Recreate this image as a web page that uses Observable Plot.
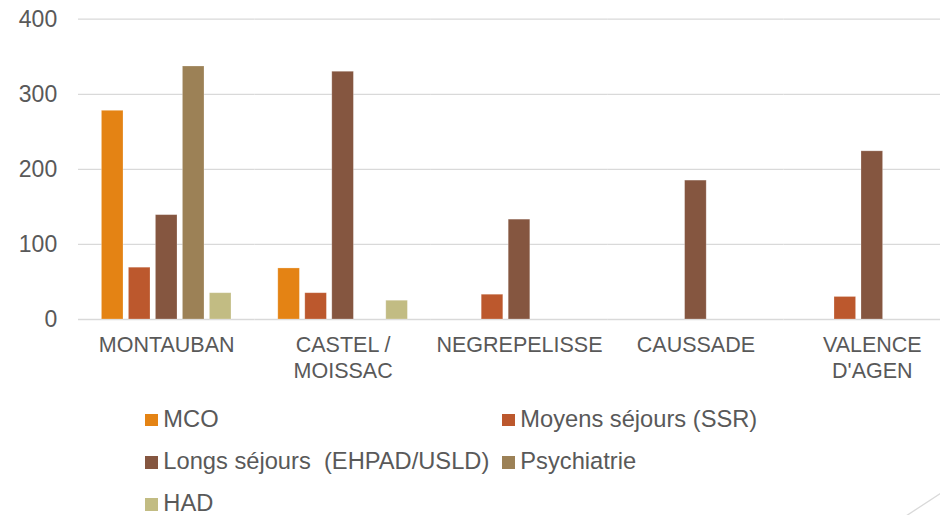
<!DOCTYPE html>
<html>
<head>
<meta charset="utf-8">
<script src="https://cdn.jsdelivr.net/npm/d3@7"></script>
<script src="https://cdn.jsdelivr.net/npm/@observablehq/plot@0.6"></script>
<style>
  html, body { margin: 0; padding: 0; background: #fff; overflow: hidden; }
  #wrap { position: relative; width: 940px; height: 515px; overflow: hidden; font-family: "Liberation Sans", Arial, sans-serif; }
  #chart { position: absolute; left: 0; top: 0; width: 960px; }
  #chart svg { max-width: none !important; }
  .lg-sw { position: absolute; width: 12.5px; height: 12.5px; }
  .lg-tx { position: absolute; font-size: 23.7px; line-height: 22px; color: #595959; white-space: pre; }
  #corner { position: absolute; left: 0; top: 0; }
</style>
</head>
<body>
<div id="wrap">
  <div id="chart"></div>
  <div id="legend"></div>
  <svg id="corner" width="940" height="515"><line x1="906" y1="516" x2="941" y2="493" stroke="#d9d9d9" stroke-width="1.3"/></svg>
</div>
<script>
const categories = ["MONTAUBAN", "CASTEL / MOISSAC", "NEGREPELISSE", "CAUSSADE", "VALENCE D'AGEN"];
const tickLabels = ["MONTAUBAN", "CASTEL /\nMOISSAC", "NEGREPELISSE", "CAUSSADE", "VALENCE\nD'AGEN"];
const series = ["MCO", "Moyens séjours (SSR)", "Longs séjours  (EHPAD/USLD)", "Psychiatrie", "HAD"];
const colors = ["#E48314", "#BC582D", "#855640", "#9C8156", "#C2BC83"];
const mco   = [278, 68, null, null, null];
const ssr   = [69, 35, 33, null, 30];
const longs = [139, 330, 133, 185, 224];
const psy   = [337, null, null, null, null];
const had   = [35, 25, null, null, null];
const yTicks = [0, 100, 200, 300, 400];

const seriesValues = [mco, ssr, longs, psy, had];
const data = [];
seriesValues.forEach((vals, i) => {
  vals.forEach((v, j) => {
    if (v != null) data.push({cat: categories[j], series: series[i], value: v});
  });
});

const H = 395;
const chart = Plot.plot({
  width: 960,
  height: H,
  marginLeft: 78,
  marginRight: 0,
  marginTop: 18.7,
  marginBottom: H - 319,
  style: {fontFamily: "'Liberation Sans', Arial, sans-serif", background: "transparent", maxWidth: "none"},
  fx: {domain: categories, padding: 0, round: false, label: null},
  x: {domain: series, paddingInner: 0.2, paddingOuter: 0.867, round: false, axis: null},
  y: {domain: [0, 400], axis: null},
  color: {domain: series, range: colors},
  marks: [
    Plot.ruleY(yTicks, {stroke: "#d9d9d9", strokeWidth: 1.3}),
    Plot.barY(data, {fx: "cat", x: "series", y: "value", fill: "series", stroke: "white", strokeOpacity: 0.3, strokeWidth: 0.8}),
    Plot.axisY({ticks: yTicks, anchor: "left", tickSize: 0, tickPadding: 21.3, fontSize: 23, color: "#595959", label: null}),
    Plot.axisFx({anchor: "bottom", tickSize: 0, tickPadding: 14.5, fontSize: 21.5, lineHeight: 1.2, color: "#595959", label: null,
      tickFormat: c => tickLabels[categories.indexOf(c)]})
  ]
});
chart.style.maxWidth = "none";
document.getElementById("chart").appendChild(chart);

// legend
const legend = document.getElementById("legend");
const colX = [145.3, 502.3];
const rowY = [413.7, 456, 498.3];
series.forEach((s, i) => {
  const col = i % 2, row = Math.floor(i / 2);
  const sw = document.createElement("div");
  sw.className = "lg-sw";
  sw.style.left = colX[col] + "px";
  sw.style.top = rowY[row] + "px";
  sw.style.background = colors[i];
  legend.appendChild(sw);
  const tx = document.createElement("div");
  tx.className = "lg-tx";
  tx.style.left = (colX[col] + 18) + "px";
  tx.style.top = (rowY[row] - 6.2) + "px";
  tx.textContent = s;
  legend.appendChild(tx);
});
</script>
</body>
</html>
